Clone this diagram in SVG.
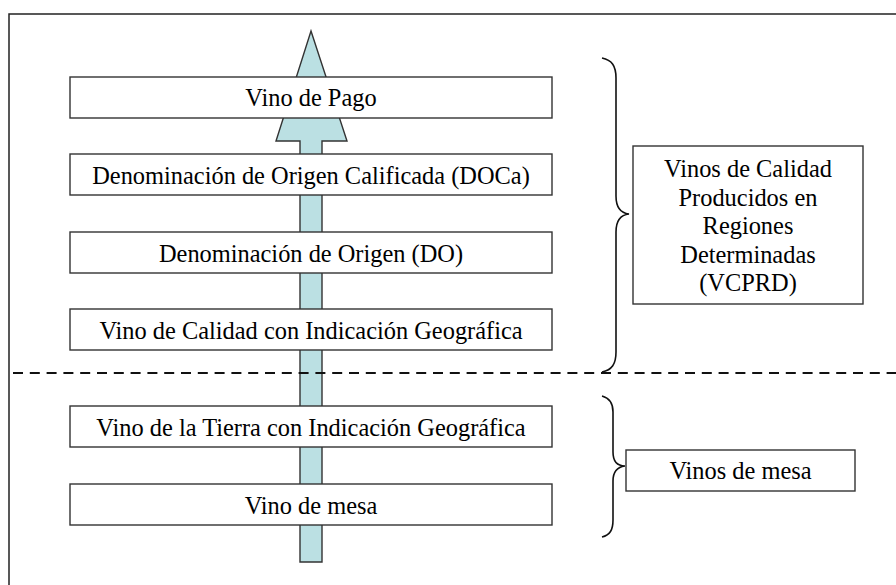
<svg xmlns="http://www.w3.org/2000/svg" width="896" height="585" viewBox="0 0 896 585">
<style>
.box{fill:#ffffff;stroke:#333333;stroke-width:1.4}
.lbl{font-family:"Liberation Serif","Times New Roman",serif;font-size:24.4px;fill:#000000;text-anchor:middle}
.brace{fill:none;stroke:#111111;stroke-width:1.6}
</style>
<rect x="0" y="0" width="896" height="585" fill="#ffffff"/>
<rect id="frame" x="9" y="14" width="900" height="600" fill="none" stroke="#222222" stroke-width="1.5"/>
<g id="connectors">
<polygon id="arrow" points="311,31 347,141 322,141 322,562 300,562 300,141 276,141" fill="#BBE0E3" stroke="#333333" stroke-width="1.4" stroke-linejoin="miter"/>
<path class="brace" d="M602,58 C612,60 616,66 616,78 L616,196 C616,207 620,213 629,214 C620,215 616,222 616,232 L616,352 C616,364 612,370 602,372"/>
<path class="brace" d="M602,396 C610,398 613,403 613,412 L613,452 C613,461 617,466 625,466 C617,467 613,472 613,481 L613,520 C613,530 610,535 602,537"/>
</g>
<line id="separator" x1="13" y1="373" x2="896" y2="373" stroke="#111111" stroke-width="2" stroke-dasharray="10 6.8"/>
<g id="n1"><rect class="box" x="70" y="77" width="482" height="41"/><text class="lbl" x="311" y="106">Vino de Pago</text></g>
<g id="n2"><rect class="box" x="70" y="154" width="482" height="41"/><text class="lbl" x="311" y="183.5">Denominación de Origen Calificada (DOCa)</text></g>
<g id="n3"><rect class="box" x="70" y="232" width="482" height="41"/><text class="lbl" x="311" y="261.5">Denominación de Origen (DO)</text></g>
<g id="n4"><rect class="box" x="70" y="309" width="482" height="41"/><text class="lbl" x="311" y="338.5">Vino de Calidad con Indicación Geográfica</text></g>
<g id="n5"><rect class="box" x="70" y="406" width="482" height="41"/><text class="lbl" x="311" y="435.5">Vino de la Tierra con Indicación Geográfica</text></g>
<g id="n6"><rect class="box" x="70" y="484" width="482" height="41"/><text class="lbl" x="311" y="513.5">Vino de mesa</text></g>
<g id="vcprd"><rect class="box" x="633" y="146" width="230" height="158"/>
<text class="lbl" x="748" y="177">Vinos de Calidad</text>
<text class="lbl" x="748" y="205.5">Producidos en</text>
<text class="lbl" x="748" y="234">Regiones</text>
<text class="lbl" x="748" y="262.5">Determinadas</text>
<text class="lbl" x="748" y="291">(VCPRD)</text>
</g>
<g id="mesa"><rect class="box" x="626" y="450" width="229" height="41"/><text class="lbl" x="740.5" y="479">Vinos de mesa</text></g>
</svg>
